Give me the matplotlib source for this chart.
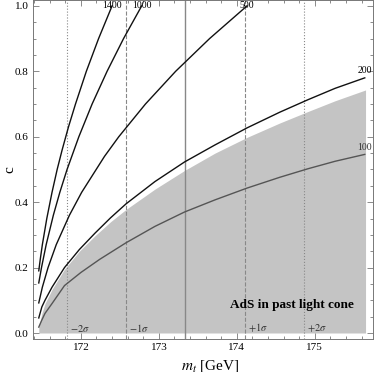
import numpy as np
import matplotlib
matplotlib.use("Agg")
import matplotlib.pyplot as plt

plt.rcParams['font.family'] = ['Liberation Serif', 'DejaVu Serif']
plt.rcParams['mathtext.fontset'] = 'stix'

# top mass: central value and 1 sigma
mt_central = 173.34
mt_sigma = 0.76
sigma_labels = ['$-2\\sigma$', '$-1\\sigma$', '', '$+1\\sigma$', '$+2\\sigma$']

# curves c(m_t) labelled by cutoff
mt_1400 = [171.46, 171.482, 171.506, 171.563, 171.63, 171.696, 171.76, 171.841, 171.931, 172.07, 172.227, 172.40]
c_1400 = [0.19, 0.23, 0.27, 0.35, 0.43, 0.50, 0.56, 0.63, 0.70, 0.80, 0.90, 1.00]

mt_1000 = [171.46, 171.495, 171.555, 171.647, 171.73, 171.823, 171.974, 172.144, 172.336, 172.547, 172.78]
c_1000 = [0.153, 0.20, 0.27, 0.36, 0.43, 0.50, 0.60, 0.70, 0.80, 0.90, 1.00]

mt_500 = [171.46, 171.506, 171.579, 171.684, 171.853, 172.01, 172.303, 172.486, 172.828, 173.215, 173.65, 174.13]
c_500 = [0.092, 0.14, 0.20, 0.27, 0.36, 0.43, 0.54, 0.60, 0.70, 0.80, 0.90, 1.00]

mt_200 = [171.46, 171.50, 171.54, 171.63, 171.79, 171.98, 172.18, 172.38, 172.58, 172.95, 173.33,
          173.72, 174.13, 174.55, 174.91, 175.26, 175.64]
c_200 = [0.046, 0.08, 0.10, 0.14, 0.20, 0.255, 0.305, 0.352, 0.395, 0.463, 0.523,
         0.575, 0.627, 0.675, 0.713, 0.748, 0.78]

mt_100 = [171.46, 171.50, 171.54, 171.63, 171.79, 172.00, 172.24, 172.40, 172.58, 172.95, 173.33,
          173.72, 174.13, 174.55, 174.91, 175.26, 175.64]
c_100 = [0.018, 0.04, 0.06, 0.09, 0.145, 0.185, 0.225, 0.249, 0.276, 0.326, 0.37,
         0.407, 0.443, 0.476, 0.502, 0.525, 0.546]

# AdS in past light cone region (upper boundary)
mt_ads = [171.46, 171.50, 171.54, 171.63, 171.79, 171.98, 172.18, 172.38, 172.58, 172.95, 173.33,
          173.72, 174.13, 174.55, 174.91, 175.26, 175.65]
c_ads = [0.018, 0.06, 0.09, 0.133, 0.195, 0.25, 0.297, 0.34, 0.378, 0.44, 0.497,
         0.55, 0.598, 0.642, 0.677, 0.71, 0.743]

fig = plt.figure(figsize=(3.74, 3.72), dpi=100)
ax = fig.add_axes([0.088, 0.089, 0.909, 0.911])

ax.fill_between(mt_ads, 0, c_ads, color='#c4c4c4', lw=0, zorder=1)

# vertical lines for the m_t measurement
styles = [':', '--', '-', '--', ':']
for i, k in enumerate([-2, -1, 0, 1, 2]):
    xv = mt_central + k * mt_sigma
    ax.axvline(xv, color='#888888', ls=styles[i], lw=0.8 if k else 1.0, zorder=2)
    if sigma_labels[i]:
        ax.text(xv + 0.04, 0.015, sigma_labels[i], fontsize=7.5, color='#333333',
                ha='left', va='center', zorder=5)

ax.plot(mt_1400, c_1400, color='#111111', lw=1.0, zorder=3)
ax.plot(mt_1000, c_1000, color='#111111', lw=1.0, zorder=3)
ax.plot(mt_500, c_500, color='#111111', lw=1.0, zorder=3)
ax.plot(mt_200, c_200, color='#111111', lw=1.0, zorder=3)
ax.plot(mt_100, c_100, color='#555555', lw=1.0, zorder=3)

ax.text(mt_1400[-1], c_1400[-1], '1400', fontsize=7, ha='center', va='center', zorder=5)
ax.text(mt_1000[-1], c_1000[-1], '1000', fontsize=7, ha='center', va='center', zorder=5)
ax.text(mt_500[-1], c_500[-1], '500', fontsize=7, ha='center', va='center', zorder=5)
ax.text(mt_200[-1], c_200[-1] + 0.008, '200', fontsize=7, ha='center', va='bottom', zorder=5)
ax.text(mt_100[-1], c_100[-1] + 0.008, '100', fontsize=7, ha='center', va='bottom', color='#333333', zorder=5)

ax.text(175.5, 0.087, 'AdS in past light cone', fontsize=9.5, fontweight='bold',
        ha='right', va='center', zorder=5)

ax.set_xlim(171.385, 175.744)
ax.set_ylim(-0.018, 1.018)
ax.set_xticks([172, 173, 174, 175])
ax.set_yticks([0.0, 0.2, 0.4, 0.6, 0.8, 1.0])
ax.set_yticklabels(['0.0', '0.2', '0.4', '0.6', '0.8', '1.0'])
ax.set_xticks(np.arange(171.4, 175.75, 0.2), minor=True)
ax.set_yticks(np.arange(0.0, 1.01, 0.05), minor=True)
ax.tick_params(which='both', direction='in', top=True, right=True,
               labelsize=8, color='#777777', width=0.6)
ax.tick_params(which='major', length=4, pad=3)
ax.tick_params(which='minor', length=2)
for s in ax.spines.values():
    s.set_color('#777777')
    s.set_linewidth(0.7)

ax.set_xlabel('$m_t$ [GeV]', fontsize=11)
ax.xaxis.set_label_coords(0.52, -0.055)
ax.set_ylabel('c', fontsize=11)
ax.yaxis.set_label_coords(-0.05, 0.5)

fig.savefig('out.png', dpi=100)
